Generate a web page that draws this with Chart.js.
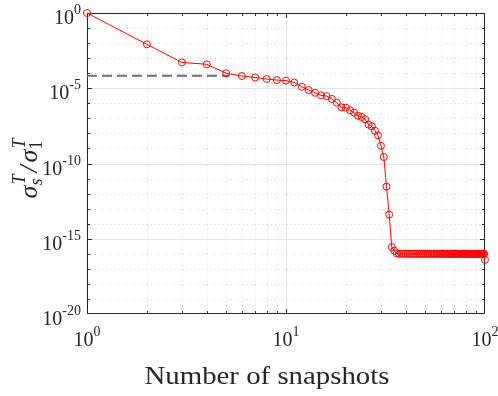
<!DOCTYPE html>
<html lang="en">
<head>
  <meta charset="UTF-8">
  <title>Singular value decay</title>
  <script src="https://cdn.jsdelivr.net/npm/chart.js"></script>
  <style>
    html, body { margin: 0; padding: 0; background: #fff; }
    #wrap { width: 498px; height: 396px; }
  </style>
</head>
<body>
  <div id="wrap"><canvas id="decayChart" width="498" height="396"></canvas></div>
  <script>
    // snapshot count (x) and normalised singular values (y)
    const snapshots = [
      1, 2, 3, 4, 5, 6, 7, 8, 9, 10,
      11, 12, 13, 14, 15, 16, 17, 18, 19, 20,
      21, 22, 23, 24, 25, 26, 27, 28, 29, 30,
      31, 32, 33, 34, 35, 36, 37, 38, 39, 40,
      41, 42, 43, 44, 45, 46, 47, 48, 49, 50,
      51, 52, 53, 54, 55, 56, 57, 58, 59, 60,
      61, 62, 63, 64, 65, 66, 67, 68, 69, 70,
      71, 72, 73, 74, 75, 76, 77, 78, 79, 80,
      81, 82, 83, 84, 85, 86, 87, 88, 89, 90,
      91, 92, 93, 94, 95, 96, 97, 98, 99, 100
    ];
    const sigmaRatio = [
      1, 8.3e-3, 5.2e-4, 3.9e-4, 1.0e-4, 6.5e-5, 5.2e-5, 4.1e-5, 3.5e-5, 3.2e-5,
      2.4e-5, 1.26e-5, 7.6e-6, 5.0e-6, 3.4e-6, 3.0e-6, 1.95e-6, 1.1e-6, 5.4e-7, 5.1e-7,
      3.4e-7, 2.4e-7, 1.5e-7, 1.23e-7, 8.7e-8, 3.8e-8, 2.95e-8, 1.5e-8, 7.4e-9, 1.5e-9,
      2.7e-10, 2.9e-12, 4.0e-14, 2.8e-16, 1.6e-16, 1.07e-16, 1.0e-16, 1.0e-16, 1.0e-16, 1.0e-16,
      1.0e-16, 1.0e-16, 1.0e-16, 1.0e-16, 1.0e-16, 1.0e-16, 1.0e-16, 1.0e-16, 1.0e-16, 1.0e-16,
      1.0e-16, 1.0e-16, 1.0e-16, 1.0e-16, 1.0e-16, 1.0e-16, 1.0e-16, 1.0e-16, 1.0e-16, 1.0e-16,
      1.0e-16, 1.0e-16, 1.0e-16, 1.0e-16, 1.0e-16, 1.0e-16, 1.0e-16, 1.0e-16, 1.0e-16, 1.0e-16,
      1.0e-16, 1.0e-16, 1.0e-16, 1.0e-16, 1.0e-16, 1.0e-16, 1.0e-16, 1.0e-16, 1.0e-16, 1.0e-16,
      1.0e-16, 1.0e-16, 1.0e-16, 1.0e-16, 1.0e-16, 1.0e-16, 1.0e-16, 1.0e-16, 1.0e-16, 1.0e-16,
      1.0e-16, 1.0e-16, 1.0e-16, 1.0e-16, 1.0e-16, 1.0e-16, 1.0e-16, 1.0e-16, 1.0e-16, 4.0e-17
    ];
    // threshold (dashed)
    const thresholdX = [1, 5.2];
    const thresholdY = [6.8e-5, 6.8e-5];

    // axis ticks
    const xGridValues = [2, 3, 4, 5, 6, 7, 8, 9, 10, 20, 30, 40, 50, 60, 70, 80, 90];
    const xMajorValues = [10];
    const xLabelExps = [0, 1, 2];
    const yGridExps = [-1, -2, -3, -4, -5, -6, -7, -8, -9, -10, -11, -12, -13, -14, -15, -16, -17, -18, -19];
    const yMajorExps = [-5, -10, -15];
    const yLabelExps = [0, -5, -10, -15, -20];

    const SERIF = '"Liberation Serif", "Times New Roman", serif';
    const TXT = '#262626';

    function drawPow(ctx, exp, x, y, align) {
      // "10" with raised exponent; x is the anchor, y the baseline of "10"
      const base = '10', sup = String(exp);
      ctx.font = '20px ' + SERIF;
      const wb = ctx.measureText(base).width;
      ctx.font = '14px ' + SERIF;
      const ws = ctx.measureText(sup).width;
      const total = wb + ws;
      let left = x;
      if (align === 'right') left = x - total;
      if (align === 'center') left = x - total / 2;
      ctx.textAlign = 'left';
      ctx.textBaseline = 'alphabetic';
      ctx.font = '20px ' + SERIF;
      ctx.fillText(base, left, y);
      ctx.font = '14px ' + SERIF;
      ctx.fillText(sup, left + wb, y - 10);
    }

    const axesPlugin = {
      id: 'matlabAxes',
      beforeDatasetsDraw(chart) {
        const { ctx, chartArea: a, scales: { x, y } } = chart;
        ctx.save();
        ctx.lineWidth = 1;

        // grid lines
        xGridValues.forEach(v => {
          const px = Math.round(x.getPixelForValue(v)) + 0.5;
          const major = xMajorValues.includes(v);
          ctx.strokeStyle = major ? '#e3e3e3' : '#d6d6d6';
          ctx.setLineDash(major ? [] : [1, 3]);
          ctx.beginPath(); ctx.moveTo(px, a.top); ctx.lineTo(px, a.bottom); ctx.stroke();
        });
        yGridExps.forEach(e => {
          const py = Math.round(y.getPixelForValue(Math.pow(10, e))) + 0.5;
          const major = yMajorExps.includes(e);
          ctx.strokeStyle = major ? '#e3e3e3' : '#d6d6d6';
          ctx.setLineDash(major ? [] : [1, 3]);
          ctx.beginPath(); ctx.moveTo(a.left, py); ctx.lineTo(a.right, py); ctx.stroke();
        });
        ctx.setLineDash([]);

        // tick marks (inward, all four sides)
        ctx.strokeStyle = TXT;
        xGridValues.forEach(v => {
          const px = Math.round(x.getPixelForValue(v)) + 0.5;
          const len = xMajorValues.includes(v) ? 5 : 3;
          ctx.beginPath();
          ctx.moveTo(px, a.bottom); ctx.lineTo(px, a.bottom - len);
          ctx.moveTo(px, a.top); ctx.lineTo(px, a.top + len);
          ctx.stroke();
        });
        yGridExps.forEach(e => {
          const py = Math.round(y.getPixelForValue(Math.pow(10, e))) + 0.5;
          const len = yMajorExps.includes(e) ? 5 : 3;
          ctx.beginPath();
          ctx.moveTo(a.left, py); ctx.lineTo(a.left + len, py);
          ctx.moveTo(a.right, py); ctx.lineTo(a.right - len, py);
          ctx.stroke();
        });

        // box
        const l = Math.round(a.left) + 0.5, r = Math.round(a.right) - 0.5;
        const t = Math.round(a.top) + 0.5, b = Math.round(a.bottom) - 0.5;
        ctx.strokeStyle = TXT;
        ctx.strokeRect(l, t, r - l, b - t);
        ctx.restore();
      },
      afterDraw(chart) {
        const { ctx, chartArea: a, scales: { x, y } } = chart;
        ctx.save();
        ctx.fillStyle = TXT;

        // tick labels
        xLabelExps.forEach(e => {
          const px = x.getPixelForValue(Math.pow(10, e));
          drawPow(ctx, e, px, a.bottom + 32, 'center');
        });
        yLabelExps.forEach(e => {
          const py = y.getPixelForValue(Math.pow(10, e));
          drawPow(ctx, e, a.left - 6, py + 11, 'right');
        });

        // x title, stretched a little to the width of the original
        ctx.font = '26px ' + SERIF;
        ctx.textAlign = 'center';
        ctx.textBaseline = 'alphabetic';
        const title = 'Number of snapshots';
        const sx = 245 / ctx.measureText(title).width;
        ctx.save();
        ctx.translate(267, 384);
        ctx.scale(sx, 1);
        ctx.fillText(title, 0, 0);
        ctx.restore();

        // y title: sigma_s^T / sigma_1^T
        ctx.translate(37, 168);
        ctx.rotate(-Math.PI / 2);
        const big = 'italic 26px ' + SERIF, small = 'italic 18px ' + SERIF, smallUp = '18px ' + SERIF;
        ctx.font = big; const wSig = ctx.measureText('σ').width;
        ctx.font = small; const wT = ctx.measureText('T').width; const wS = ctx.measureText('s').width;
        ctx.font = smallUp; const w1 = ctx.measureText('1').width;
        ctx.font = big; const wSl = ctx.measureText('/').width;
        const g1 = Math.max(wT, wS) + 3, g2 = Math.max(wT, w1) + 2;
        const total = wSig + g1 + wSl + 3 + wSig + g2;
        let cx = -total / 2;
        ctx.textAlign = 'left';
        ctx.font = big; ctx.fillText('σ', cx, 0); cx += wSig;
        ctx.font = small; ctx.fillText('T', cx + 1, -12); ctx.fillText('s', cx, 5); cx += g1;
        ctx.font = big; ctx.fillText('/', cx, 0); cx += wSl + 3;
        ctx.fillText('σ', cx, 0); cx += wSig;
        ctx.font = small; ctx.fillText('T', cx + 1, -12);
        ctx.font = smallUp; ctx.fillText('1', cx, 5);
        ctx.restore();
      }
    };

    const ctx = document.getElementById('decayChart').getContext('2d');
    const decayChart = new Chart(ctx, {
      type: 'scatter',
      data: {
        datasets: [
          {
            label: 'sigma ratio',
            data: snapshots.map((s, i) => ({ x: s, y: sigmaRatio[i] })),
            showLine: true,
            borderColor: '#ff0000',
            borderWidth: 1,
            pointStyle: 'circle',
            pointRadius: 3.5,
            pointBorderColor: '#ff0000',
            pointBackgroundColor: 'rgba(0,0,0,0)',
            pointBorderWidth: 1,
            clip: false
          },
          {
            label: 'threshold',
            data: thresholdX.map((v, i) => ({ x: v, y: thresholdY[i] })),
            showLine: true,
            borderColor: '#6e6e6e',
            borderWidth: 2,
            borderDash: [10, 5],
            pointRadius: 0,
            clip: false
          }
        ]
      },
      options: {
        responsive: false,
        animation: false,
        layout: { padding: { left: 87, top: 13, right: 13, bottom: 82 } },
        plugins: { legend: { display: false }, tooltip: { enabled: false } },
        scales: {
          x: { type: 'logarithmic', min: 1, max: 100, display: false },
          y: { type: 'logarithmic', min: 1e-20, max: 1, display: false }
        }
      },
      plugins: [axesPlugin]
    });
  </script>
</body>
</html>
